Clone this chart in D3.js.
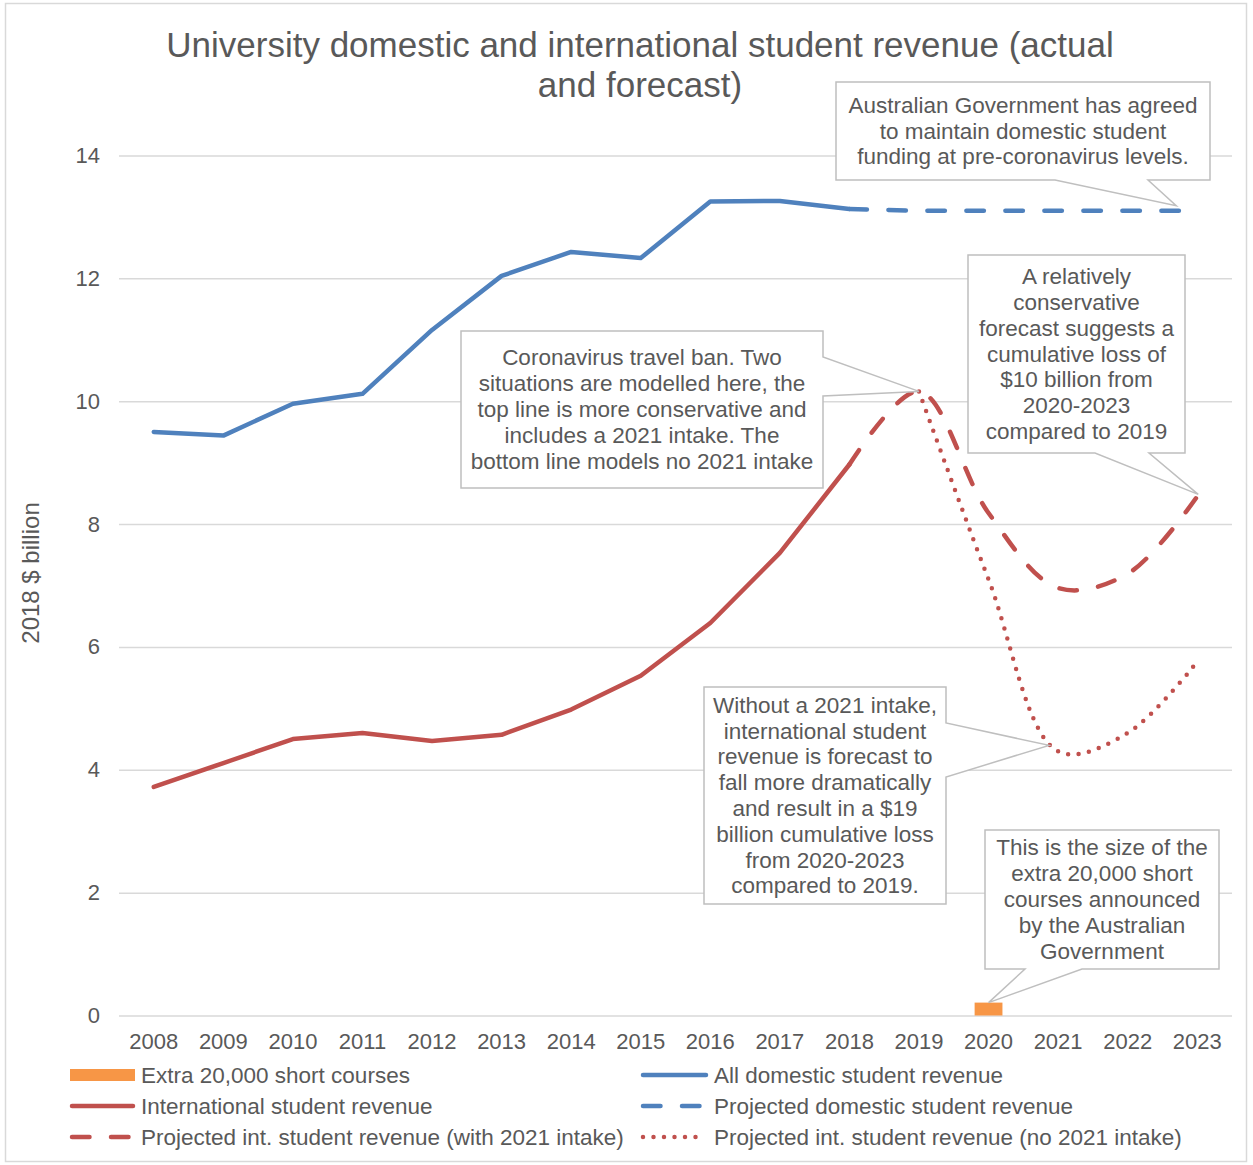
<!DOCTYPE html>
<html>
<head>
<meta charset="utf-8">
<script src="https://cdn.jsdelivr.net/npm/d3@7"></script>
<style>
  html, body { margin: 0; padding: 0; background: #fff; }
  svg { display: block; font-family: "Liberation Sans", Arial, sans-serif; }
</style>
</head>
<body>
<svg id="chart" width="1253" height="1165"></svg>
<script>
// ---------- DATA ----------
const years = ["2008","2009","2010","2011","2012","2013","2014","2015","2016","2017","2018","2019","2020","2021","2022","2023"];
const domesticYears = ["2008","2009","2010","2011","2012","2013","2014","2015","2016","2017","2018"];
const domesticValues = [9.50, 9.44, 9.96, 10.12, 11.16, 12.04, 12.43, 12.33, 13.25, 13.26, 13.13];
const projDomesticYears = ["2018","2019","2020","2021","2022","2023"];
const projDomesticValues = [13.13, 13.10, 13.10, 13.10, 13.10, 13.10];
const intlYears = ["2008","2009","2010","2011","2012","2013","2014","2015","2016","2017","2018"];
const intlValues = [3.72, 4.11, 4.50, 4.60, 4.47, 4.57, 4.98, 5.53, 6.39, 7.53, 8.97];
const projIntlWithYears = ["2018","2019","2020","2021","2022","2023"];
const projIntlWithValues = [8.97, 10.16, 8.18, 6.96, 7.19, 8.45];
const projIntlNoYears = ["2019","2020","2021","2022","2023"];
const projIntlNoValues = [10.16, 7.10, 4.30, 4.60, 5.76];
const shortCourseYears = ["2020"];
const shortCourseValues = [0.21];
const yTicks = [0, 2, 4, 6, 8, 10, 12, 14];

const titleLines = ["University domestic and international student revenue (actual", "and forecast)"];
const yAxisTitle = "2018 $ billion";

const legendLabels = [
  "Extra 20,000 short courses", "All domestic student revenue",
  "International student revenue", "Projected domestic student revenue",
  "Projected int. student revenue (with 2021 intake)", "Projected int. student revenue (no 2021 intake)"
];

const calloutTexts = [
  ["Australian Government has agreed", "to maintain domestic student", "funding at pre-coronavirus levels."],
  ["A relatively", "conservative", "forecast suggests a", "cumulative loss of", "$10 billion from", "2020-2023", "compared to 2019"],
  ["Coronavirus travel ban. Two", "situations are modelled here, the", "top line is more conservative and", "includes a 2021 intake. The", "bottom line models no 2021 intake"],
  ["Without a 2021 intake,", "international student", "revenue is forecast to", "fall more dramatically", "and result in a $19", "billion cumulative loss", "from 2020-2023", "compared to 2019."],
  ["This is the size of the", "extra 20,000 short", "courses announced", "by the Australian", "Government"]
];

// ---------- STYLE ----------
const BLUE = "#4F81BD", RED = "#C0504D", ORANGE = "#F79646";
const TEXT = "#595959", GRID = "#D9D9D9", CALLOUT = "#BFBFBF";
const LW = 4.5;
const DASH = "17.5,21.5";
const DOT = "0,10.5";
const FS = 22.5;

const svg = d3.select("#chart");
svg.append("rect").attr("x", 5.5).attr("y", 3.5).attr("width", 1241).attr("height", 1158)
  .attr("fill", "#fff").attr("stroke", GRID).attr("stroke-width", 1.5);

const x = d3.scaleBand().domain(years).range([119, 1232]).padding(0);
const xc = d => x(d) + x.bandwidth() / 2;
const y = d3.scaleLinear().domain([0, 14]).range([1015.5, 155.5]);

// title
svg.append("g").selectAll("text").data(titleLines).join("text")
  .attr("x", 640).attr("y", (d, i) => 57 + i * 40)
  .attr("text-anchor", "middle").attr("fill", TEXT).attr("font-size", 35)
  .text(d => d);

// y axis title
svg.append("text").attr("transform", "translate(39,573) rotate(-90)")
  .attr("text-anchor", "middle").attr("fill", TEXT).attr("font-size", 24).text(yAxisTitle);

// gridlines via axis
const yAxis = d3.axisLeft(y).tickValues(yTicks).tickSize(-(1232 - 119)).tickPadding(19).tickFormat(d3.format("d"));
const gy = svg.append("g").attr("transform", "translate(119,0)").call(yAxis);
gy.select(".domain").remove();
gy.selectAll(".tick line").attr("stroke", GRID).attr("stroke-width", 1.5);
gy.selectAll(".tick text").attr("fill", TEXT).attr("font-size", 22).attr("font-family", "Liberation Sans, Arial, sans-serif");

// x axis labels
const xAxis = d3.axisBottom(x).tickSize(0).tickPadding(18);
const gx = svg.append("g").attr("transform", "translate(0,1015.5)").call(xAxis);
gx.select(".domain").remove();
gx.selectAll(".tick text").attr("fill", TEXT).attr("font-size", 22).attr("font-family", "Liberation Sans, Arial, sans-serif");

// bar
const barW = x.bandwidth() * 0.4;
svg.append("g").selectAll("rect").data(shortCourseYears.map((d, i) => ({ k: d, v: shortCourseValues[i] }))).join("rect")
  .attr("x", d => xc(d.k) - barW / 2).attr("width", barW)
  .attr("y", d => y(d.v)).attr("height", d => y(0) - y(d.v)).attr("fill", ORANGE);

// lines
function series(ks, vs) { return ks.map((k, i) => ({ k, v: vs[i] })); }
const straight = d3.line().x(d => xc(d.k)).y(d => y(d.v));
const smooth = d3.line().x(d => xc(d.k)).y(d => y(d.v)).curve(d3.curveCatmullRom.alpha(0.5));

function drawLine(data, gen, color, dash) {
  const p = svg.append("path").datum(data).attr("d", gen).attr("fill", "none")
    .attr("stroke", color).attr("stroke-width", LW)
    .attr("stroke-linecap", "round").attr("stroke-linejoin", "round");
  if (dash) p.attr("stroke-dasharray", dash);
}
drawLine(series(intlYears, intlValues), straight, RED, null);
drawLine(series(projIntlWithYears, projIntlWithValues), smooth, RED, DASH);
drawLine(series(projIntlNoYears, projIntlNoValues), smooth, RED, DOT);
drawLine(series(domesticYears, domesticValues), straight, BLUE, null);
drawLine(series(projDomesticYears, projDomesticValues), straight, BLUE, DASH);

// callouts: box in pixels, tip anchored to data
const callouts = [
  { box: [836, 82, 1210, 180], side: "bottom", base: [1055, 1148], anchor: ["2023", projDomesticValues[5]], off: [-21, -5] },
  { box: [968, 255, 1185, 453], side: "bottom", base: [1095, 1149], anchor: ["2023", projIntlWithValues[5]], off: [1, -2] },
  { box: [461, 331, 823, 488], side: "right", base: [357, 396], anchor: ["2019", projIntlWithValues[1]], off: [0, 0] },
  { box: [704, 687, 946, 904], side: "right", base: [723, 777], anchor: ["2021", projIntlNoValues[2]], off: [-9, -6] },
  { box: [985, 830, 1219, 969], side: "bottom", base: [1025, 1082], anchor: ["2020", shortCourseValues[0]], off: [0, 0] }
];
const LH = 25.8;
callouts.forEach((c, i) => {
  const [x0, y0, x1, y1] = c.box;
  const tx = xc(c.anchor[0]) + c.off[0], ty = y(c.anchor[1]) + c.off[1];
  let d;
  if (c.side === "bottom") {
    d = `M${x0},${y0}H${x1}V${y1}H${c.base[1]}L${tx},${ty}L${c.base[0]},${y1}H${x0}Z`;
  } else {
    d = `M${x0},${y0}H${x1}V${c.base[0]}L${tx},${ty}L${x1},${c.base[1]}V${y1}H${x0}Z`;
  }
  svg.append("path").attr("d", d).attr("fill", "#fff").attr("stroke", CALLOUT).attr("stroke-width", 1.5);
  const lines = calloutTexts[i];
  const cx = (x0 + x1) / 2, cy = (y0 + y1) / 2;
  svg.append("g").selectAll("text").data(lines).join("text")
    .attr("x", cx).attr("y", (d, j) => cy + (j - (lines.length - 1) / 2) * LH + 7.5)
    .attr("text-anchor", "middle").attr("fill", TEXT).attr("font-size", FS).text(d => d);
});

// legend
const legendItems = [
  { type: "bar", color: ORANGE },
  { type: "line", color: BLUE, dash: null },
  { type: "line", color: RED, dash: null },
  { type: "line", color: BLUE, dash: DASH },
  { type: "line", color: RED, dash: DASH },
  { type: "line", color: RED, dash: DOT }
];
const colX = [70, 641], colW = [65, 67], rowY0 = 1075, rowH = 31;
legendItems.forEach((it, i) => {
  const col = i % 2, row = Math.floor(i / 2);
  const sx = colX[col], sy = rowY0 + row * rowH;
  if (it.type === "bar") {
    svg.append("rect").attr("x", sx).attr("y", sy - 6).attr("width", colW[col]).attr("height", 12).attr("fill", it.color);
  } else {
    const l = svg.append("line").attr("x1", sx + 2).attr("x2", sx + colW[col] - 2).attr("y1", sy).attr("y2", sy)
      .attr("stroke", it.color).attr("stroke-width", LW).attr("stroke-linecap", "round");
    if (it.dash) l.attr("stroke-dasharray", it.dash);
  }
  svg.append("text").attr("x", sx + colW[col] + 6).attr("y", sy + 8)
    .attr("fill", TEXT).attr("font-size", FS).text(legendLabels[i]);
});
</script>
</body>
</html>
